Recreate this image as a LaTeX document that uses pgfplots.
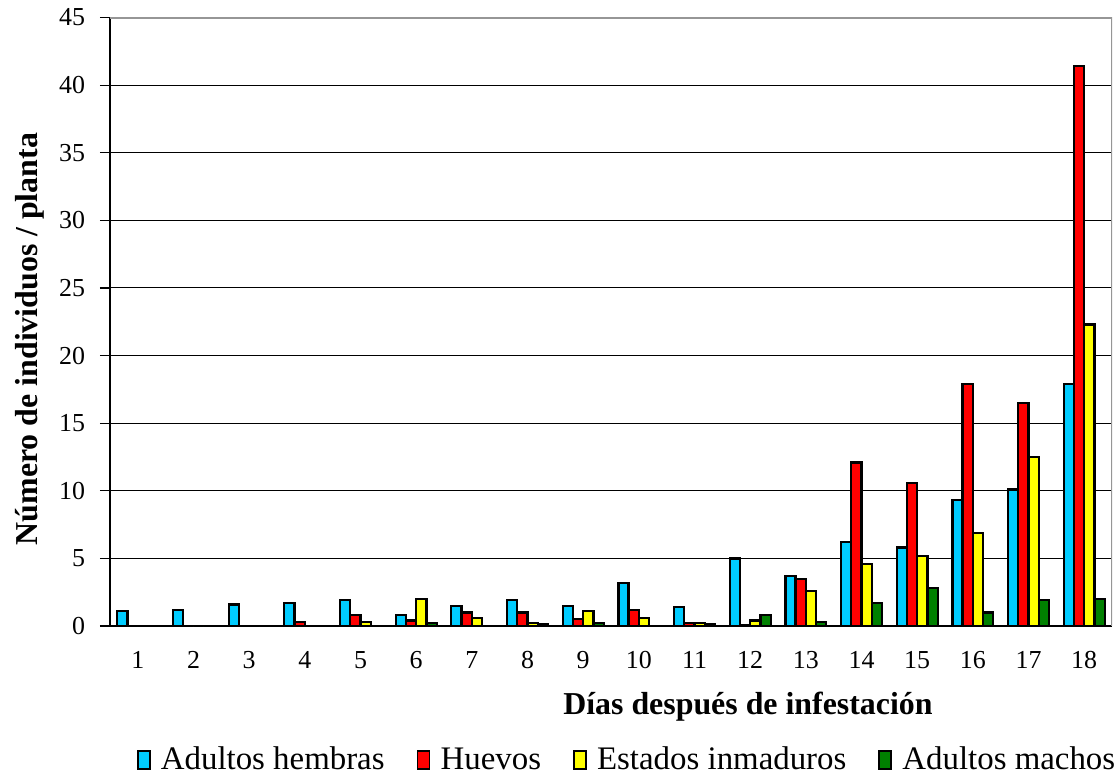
\documentclass[border=0pt]{standalone}
\usepackage{pgfplots}
\pgfplotsset{compat=1.18}
\usepackage{pgfplotstable}
\usepackage{fontspec}
\setmainfont{Liberation Serif}
\definecolor{cblue}{RGB}{0,204,255}
\definecolor{cred}{RGB}{255,0,0}
\definecolor{cyellow}{RGB}{255,255,0}
\definecolor{cgreen}{RGB}{0,128,0}
\definecolor{frameg}{RGB}{150,150,150}
\pgfplotstableread{
day hembras huevos inmaduros machos
1  1.1  0    0    0
2  1.2  0    0    0
3  1.6  0    0    0
4  1.7  0.3  0    0
5  1.9  0.8  0.3  0
6  0.8  0.4  2.0  0.2
7  1.5  1.0  0.6  0
8  1.9  1.0  0.2  0.1
9  1.5  0.5  1.1  0.2
10 3.2  1.2  0.6  0
11 1.4  0.2  0.2  0.1
12 5.0  0.05 0.4  0.8
13 3.7  3.5  2.6  0.3
14 6.2  12.1 4.6  1.7
15 5.8  10.6 5.2  2.8
16 9.3  17.9 6.9  1.0
17 10.1 16.5 12.5 1.9
18 17.9 41.4 22.3 2.0
}\datatable
\begin{document}
\begin{tikzpicture}
\useasboundingbox (-55bp,-75bp) rectangle (504.5bp,313bp);
\begin{axis}[
  at={(0,0)}, anchor=south west,
  scale only axis,
  width=501bp, height=304.25bp,
  ybar=0pt,
  bar width=0.184,
  xmin=0.5, xmax=18.5,
  ymin=0, ymax=45,
  axis lines=left,
  axis line style={-, black, line width=0.6bp},
  xtick={1,...,18},
  major x tick style={draw=none},
  extra x ticks={0.5,1.5,...,18.5},
  extra x tick labels={},
  extra x tick style={major tick length=4.5bp, tick align=outside, tick style={black, line width=0.6bp}, grid=none},
  ytick={0,5,...,45},
  ytick style={black, line width=0.6bp},
  major tick length=5bp,
  tick align=outside,
  ymajorgrids,
  major grid style={black, line width=0.5bp},
  /pgf/number format/assume math mode=true,
  tick label style={font=\fontsize{13}{15}\selectfont},
  xticklabel style={anchor=center, yshift=-12bp},
  yticklabel style={anchor=east, xshift=-4bp},
  xlabel={\textbf{Días después de infestación}},
  xlabel style={at={(axis description cs:0.6367,-0.133)}, anchor=center, font=\fontsize{16}{18}\selectfont},
  ylabel={\textbf{Número de individuos / planta}},
  ylabel style={at={(axis description cs:-0.0798,0.4717)}, anchor=center, rotate=0, font=\fontsize{16}{18}\selectfont},
  legend columns=4,
  legend style={at={(axis description cs:0.517,-0.220)}, anchor=center, draw=none, fill=none,
    font=\fontsize{16.5}{18}\selectfont,
    /tikz/every even column/.append style={column sep=14bp}},
  legend image code/.code={\draw[#1, line width=0.9bp] (0bp,-4.5bp) rectangle (6bp,4.5bp); \path (9bp,0bp);},
  every axis plot/.append style={draw=black, line width=1.15bp},
]
\addplot[fill=cblue, bar shift=-0.276] table[x=day, y=hembras] {\datatable};
\addplot[fill=cred, bar shift=-0.092] table[x=day, y=huevos] {\datatable};
\addplot[fill=cyellow, bar shift=0.092] table[x=day, y=inmaduros] {\datatable};
\addplot[fill=cgreen, bar shift=0.276] table[x=day, y=machos] {\datatable};
\legend{Adultos hembras, Huevos, Estados inmaduros, Adultos machos}
\draw[frameg, line width=1bp] (rel axis cs:0,1) -- (rel axis cs:1,1) -- (rel axis cs:1,0);
\end{axis}
\end{tikzpicture}
\end{document}
